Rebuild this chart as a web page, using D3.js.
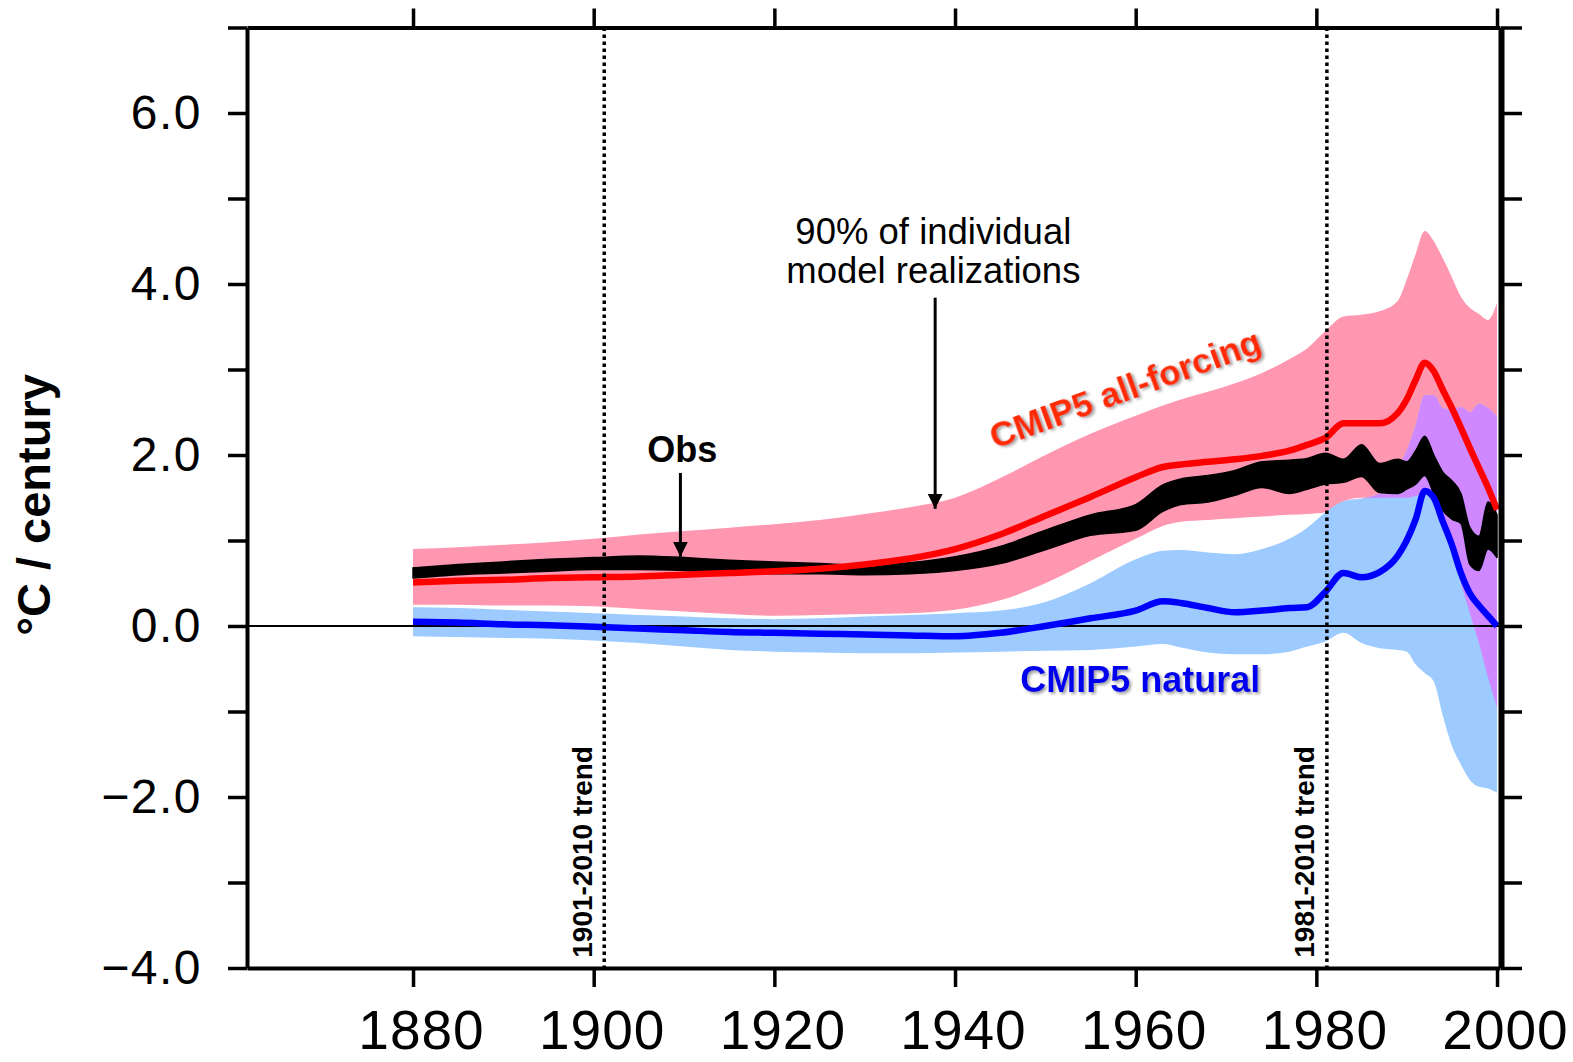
<!DOCTYPE html>
<html>
<head>
<meta charset="utf-8">
<script src="https://cdn.jsdelivr.net/npm/d3@7"></script>
<style>
  body { margin: 0; background: #fff; }
  svg { display: block; font-family: "Liberation Sans", Arial, Helvetica, sans-serif; }
  .axis path, .axis line { stroke: #000; }
</style>
</head>
<body>
<svg id="chart" width="1573" height="1062"></svg>
<script>
// start year of trend
const years   = [1880,1885,1890,1895,1900,1905,1910,1915,1920,1925,1930,1935,1940,1945,1950,1955,1960,1963,1965,1968,1971,1974,1977,1979,1981,1983,1985,1987,1989,1990,1991,1992,1993,1994,1995,1996,1997,1998,1999,2000];
// CMIP5 all-forcing: mean and 90% range (°C / century)
const allMean = [0.51,0.53,0.54,0.56,0.57,0.58,0.60,0.62,0.64,0.67,0.72,0.79,0.90,1.07,1.29,1.51,1.74,1.86,1.89,1.92,1.95,1.99,2.05,2.12,2.20,2.37,2.37,2.37,2.49,2.65,2.88,3.08,2.98,2.76,2.55,2.32,2.08,1.85,1.62,1.36];
const allHi   = [0.90,0.92,0.95,0.98,1.02,1.07,1.11,1.15,1.19,1.24,1.31,1.39,1.50,1.73,2.00,2.25,2.46,2.58,2.65,2.74,2.84,2.96,3.12,3.25,3.45,3.62,3.64,3.68,3.80,4.05,4.35,4.62,4.50,4.30,4.08,3.85,3.72,3.65,3.58,3.78];
const allLo   = [0.25,0.25,0.24,0.24,0.23,0.20,0.17,0.14,0.12,0.13,0.14,0.15,0.19,0.30,0.50,0.76,1.02,1.17,1.22,1.24,1.26,1.28,1.30,1.31,1.33,1.46,1.50,1.50,1.50,1.50,1.52,1.55,1.48,1.25,0.90,0.50,0.15,-0.20,-0.60,-0.95];
// CMIP5 natural: mean and 90% range
const natMean = [0.05,0.04,0.02,0.01,-0.01,-0.03,-0.05,-0.07,-0.08,-0.09,-0.10,-0.11,-0.12,-0.08,0.00,0.09,0.18,0.29,0.27,0.21,0.16,0.18,0.21,0.22,0.40,0.62,0.57,0.63,0.82,1.00,1.25,1.58,1.50,1.22,0.95,0.62,0.38,0.24,0.12,0.00];
const natHi   = [0.22,0.21,0.19,0.17,0.15,0.13,0.11,0.09,0.08,0.09,0.11,0.13,0.15,0.18,0.28,0.50,0.78,0.88,0.89,0.86,0.84,0.90,1.02,1.15,1.33,1.46,1.49,1.55,1.85,2.05,2.35,2.70,2.70,2.55,2.53,2.56,2.50,2.60,2.55,2.45];
const natLo   = [-0.12,-0.13,-0.14,-0.15,-0.17,-0.20,-0.24,-0.28,-0.30,-0.31,-0.32,-0.32,-0.31,-0.30,-0.29,-0.28,-0.24,-0.21,-0.25,-0.31,-0.33,-0.33,-0.30,-0.24,-0.18,-0.08,-0.20,-0.26,-0.28,-0.30,-0.45,-0.55,-0.65,-1.05,-1.40,-1.62,-1.80,-1.88,-1.90,-1.95];
// observations (spread of datasets)
const obsHi   = [0.68,0.72,0.75,0.78,0.80,0.82,0.80,0.77,0.75,0.73,0.71,0.74,0.81,0.93,1.12,1.30,1.42,1.65,1.72,1.76,1.82,1.92,1.94,1.96,2.02,1.95,2.12,1.90,1.95,1.92,2.05,2.22,2.00,1.80,1.70,1.55,1.15,1.05,1.45,1.30];
const obsLo   = [0.56,0.60,0.62,0.64,0.66,0.66,0.65,0.63,0.61,0.61,0.60,0.61,0.65,0.73,0.89,1.06,1.12,1.34,1.42,1.45,1.53,1.62,1.55,1.60,1.66,1.68,1.75,1.56,1.55,1.60,1.66,1.76,1.55,1.35,1.25,1.20,0.72,0.65,0.90,0.80];

const xTicks = [1880,1900,1920,1940,1960,1980,2000];
const yTicks = [-4,-3,-2,-1,0,1,2,3,4,5,6,7];
const trendYears = [1901, 1981];

const svg = d3.select("#chart");

const x = d3.scaleLinear().domain([1861.62, 2000.33]).range([247, 1500]);
const y = d3.scaleLinear().domain([-4, 7]).range([968, 27.5]);

const rows = years.map((yr, i) => ({
    yr,
    allMean: allMean[i], allHi: allHi[i], allLo: allLo[i],
    natMean: natMean[i], natHi: natHi[i], natLo: natLo[i],
    obsHi: obsHi[i], obsLo: obsLo[i]
}));

//overlap of the two model ranges, drawn purple
rows.forEach(d => {
    d.ovHi = Math.min(d.allHi, d.natHi);
    d.ovLo = Math.min(Math.max(d.allLo, d.natLo), d.ovHi);
});

const curve = d3.curveMonotoneX;
const band = (lo, hi) => d3.area().curve(curve).x(d => x(d.yr)).y0(d => y(d[lo])).y1(d => y(d[hi]));
const line = key => d3.line().curve(curve).x(d => x(d.yr)).y(d => y(d[key]));

const defs = svg.append("defs");
defs.append("filter").attr("id", "shadow")
    .attr("x", "-10%").attr("y", "-30%").attr("width", "130%").attr("height", "170%")
    .append("feDropShadow")
    .attr("dx", 2).attr("dy", 2).attr("stdDeviation", 1.5)
    .attr("flood-color", "#777").attr("flood-opacity", 0.7);
defs.append("marker").attr("id", "arrow")
    .attr("viewBox", "0 0 10 10").attr("refX", 10).attr("refY", 5)
    .attr("markerWidth", 5).attr("markerHeight", 5).attr("markerUnits", "strokeWidth")
    .attr("orient", "auto")
    .append("path").attr("d", "M0,0 L10,5 L0,10 Z").attr("fill", "#000");

//ranges
svg.append("path").datum(rows).attr("d", band("allLo", "allHi")).attr("fill", "#ff97b0");
svg.append("path").datum(rows).attr("d", band("natLo", "natHi")).attr("fill", "#9dcbff");
svg.append("path").datum(rows).attr("d", band("ovLo", "ovHi")).attr("fill", "#cf88ff");

//zero line
svg.append("line")
    .attr("x1", x.range()[0]).attr("x2", x.range()[1])
    .attr("y1", y(0)).attr("y2", y(0))
    .attr("stroke", "#000").attr("stroke-width", 2);

//observations
svg.append("path").datum(rows).attr("d", band("obsLo", "obsHi"))
    .attr("fill", "#000").attr("stroke", "#000").attr("stroke-width", 1.5).attr("stroke-linejoin", "round");

//model means
svg.append("path").datum(rows).attr("d", line("allMean"))
    .attr("fill", "none").attr("stroke", "#ff0000").attr("stroke-width", 6.5).attr("stroke-linejoin", "round");
svg.append("path").datum(rows).attr("d", line("natMean"))
    .attr("fill", "none").attr("stroke", "#0000ff").attr("stroke-width", 6.5).attr("stroke-linejoin", "round");

//trend period markers
svg.selectAll(".trend").data(trendYears).join("line")
    .attr("class", "trend")
    .attr("x1", d => x(d) + 1.5).attr("x2", d => x(d) + 1.5)
    .attr("y1", y(7)).attr("y2", y(-4))
    .attr("stroke", "#000").attr("stroke-width", 3.5).attr("stroke-dasharray", "3.5,3.5");
svg.selectAll(".trend-label").data(trendYears).join("text")
    .attr("class", "trend-label")
    .attr("transform", d => `translate(${x(d) - 11},${y(-3.88)}) rotate(-90)`)
    .attr("font-size", 28).attr("font-weight", "bold")
    .text(d => `${d}-2010 trend`);

//axes
const fmt = d => d % 2 === 0 ? d3.format(".1f")(d) : "";
const axLeft = svg.append("g").attr("class", "axis").attr("transform", `translate(${x.range()[0]},0)`)
    .call(d3.axisLeft(y).tickValues(yTicks).tickSize(19).tickSizeOuter(0).tickPadding(26).tickFormat(fmt));
const axRight = svg.append("g").attr("class", "axis").attr("transform", `translate(${x.range()[1] + 1},0)`)
    .call(d3.axisRight(y).tickValues(yTicks).tickSize(21).tickSizeOuter(0).tickFormat(""));
const axTop = svg.append("g").attr("class", "axis").attr("transform", `translate(0,${y(7)})`)
    .call(d3.axisTop(x).tickValues(xTicks).tickSize(19).tickSizeOuter(0).tickFormat(""));
const axBottom = svg.append("g").attr("class", "axis").attr("transform", `translate(0,${y(-4)})`)
    .call(d3.axisBottom(x).tickValues(xTicks).tickSize(19).tickSizeOuter(0).tickPadding(26).tickFormat(d3.format("d")));

[axLeft, axRight, axTop, axBottom].forEach(g => {
    g.select(".domain").attr("stroke-width", 4);
    g.selectAll(".tick line").attr("stroke-width", 3.5);
});
axRight.select(".domain").attr("stroke-width", 6);
axLeft.selectAll("text").attr("font-size", 48).attr("letter-spacing", 1.5).attr("fill", "#000").attr("font-family", null);
axBottom.selectAll("text").attr("font-size", 55).attr("letter-spacing", 1).attr("fill", "#000").attr("font-family", null)
    .attr("dx", 8).attr("dy", "0.66em");

//y title
svg.append("text")
    .attr("transform", "translate(50,505) rotate(-90)")
    .attr("text-anchor", "middle")
    .attr("font-size", 47).attr("font-weight", "bold")
    .text("°C / century");

//annotations
svg.append("text")
    .attr("x", x(1909.8)).attr("y", y(1.92))
    .attr("text-anchor", "middle").attr("font-size", 36).attr("font-weight", "bold")
    .text("Obs");
svg.append("line")
    .attr("x1", x(1909.6)).attr("x2", x(1909.6))
    .attr("y1", y(1.79)).attr("y2", y(0.81))
    .attr("stroke", "#000").attr("stroke-width", 3).attr("marker-end", "url(#arrow)");

const note = svg.append("text").attr("text-anchor", "middle").attr("font-size", 36.5);
note.append("tspan").attr("x", x(1937.6)).attr("y", y(4.47)).text("90% of individual");
note.append("tspan").attr("x", x(1937.6)).attr("y", y(4.01)).text("model realizations");
svg.append("line")
    .attr("x1", x(1937.8)).attr("x2", x(1937.8))
    .attr("y1", y(3.84)).attr("y2", y(1.37))
    .attr("stroke", "#000").attr("stroke-width", 3).attr("marker-end", "url(#arrow)");

svg.append("text")
    .attr("transform", `translate(${x(1959.3)},${y(2.64)}) rotate(-20)`)
    .attr("text-anchor", "middle").attr("font-size", 35).attr("font-weight", "bold")
    .attr("fill", "#ff2a00").attr("filter", "url(#shadow)")
    .text("CMIP5 all-forcing");
svg.append("text")
    .attr("x", x(1960.5)).attr("y", y(-0.77))
    .attr("text-anchor", "middle").attr("font-size", 36).attr("font-weight", "bold")
    .attr("fill", "#0000ee").attr("filter", "url(#shadow)")
    .text("CMIP5 natural");
</script>
</body>
</html>
